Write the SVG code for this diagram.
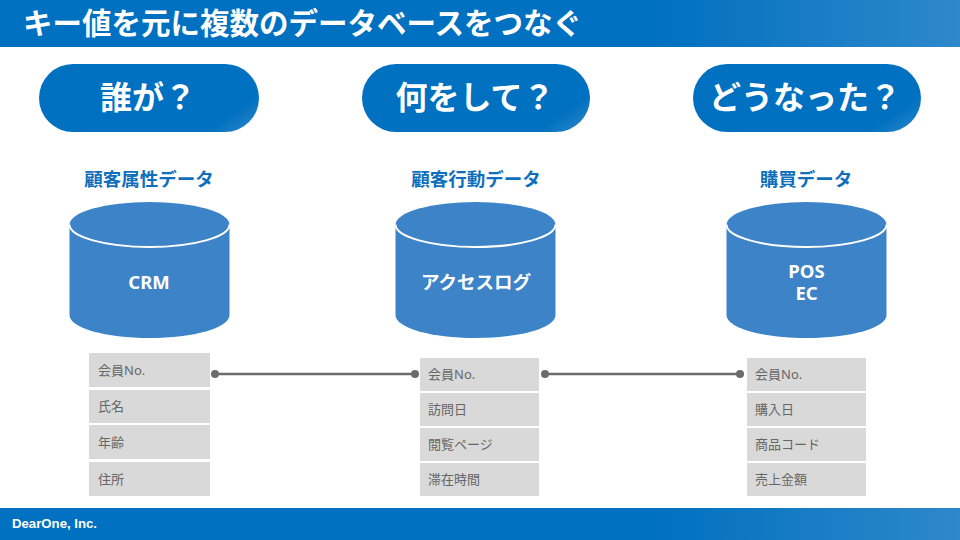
<svg xmlns="http://www.w3.org/2000/svg" width="960" height="540" viewBox="0 0 960 540">
<defs>
<linearGradient id="bar" x1="0" y1="0" x2="1" y2="0"><stop offset="0" stop-color="#0070c0"/><stop offset="0.68" stop-color="#0070c0"/><stop offset="1" stop-color="#2e88ca"/></linearGradient>
<linearGradient id="pg1" gradientUnits="userSpaceOnUse" x1="39" y1="0" x2="168" y2="192"><stop offset="0" stop-color="#0070c0"/><stop offset="0.87" stop-color="#0070c0"/><stop offset="1" stop-color="#2e88ca"/></linearGradient>
<linearGradient id="pg2" href="#pg1" gradientTransform="translate(331 0)"/>
<linearGradient id="pg3" href="#pg1" gradientTransform="translate(662 0)"/>
<g id="cyl">
<path d="M0 22.500 V113 C0 126 36 136 80 136 C124 136 160 126 160 113 V22.500 A80 22.500 0 0 0 0 22.500 Z" fill="#3c83c8"/>
<path d="M0 22.500 A80 22.500 0 0 0 160 22.500" fill="none" stroke="#fff" stroke-width="2"/>
</g>
</defs>
<style>
text{font-family:"Noto Sans","Noto Sans CJK JP",sans-serif}
.pt{fill:#fff;font-size:32px;font-weight:700;text-anchor:middle}
.h{fill:#0f6fbd;font-size:18.500px;font-weight:700;text-anchor:middle}
.c{fill:#fff;font-size:18.500px;font-weight:700;text-anchor:middle}
.r{fill:#d9d9d9}
.t{fill:#666;font-size:13px}
.l{stroke:#6b6b6b;stroke-width:2.500;fill:none}
.d{fill:#6b6b6b}
</style>
<rect id="top-bar" x="0" y="0" width="960" height="47" fill="url(#bar)"/>
<text x="23" y="34" fill="#fff" font-size="29.500" font-weight="700">キー値を元に複数のデータベースをつなぐ</text>
<g id="q1"><rect fill="url(#pg1)" x="39" y="64" width="220" height="68" rx="34"/><text class="pt" x="148" y="109">誰が？</text></g>
<g id="q2"><rect fill="url(#pg2)" x="362" y="64" width="228" height="68" rx="34"/><text class="pt" x="475" y="109">何をして？</text></g>
<g id="q3"><rect fill="url(#pg3)" x="693" y="64" width="228" height="68" rx="34"/><text class="pt" x="805" y="109">どうなった？</text></g>
<text class="h" x="149" y="186">顧客属性データ</text>
<text class="h" x="476" y="186">顧客行動データ</text>
<text class="h" x="806" y="186">購買データ</text>
<g id="db1"><use href="#cyl" x="69.500" y="202"/><text class="c" x="149" y="288.500">CRM</text></g>
<g id="db2"><use href="#cyl" x="395.500" y="202"/><text class="c" x="476" y="288.500">アクセスログ</text></g>
<g id="db3"><use href="#cyl" x="726.500" y="202"/><text class="c" x="806.500" y="278"><tspan x="806.500">POS</tspan><tspan x="806.500" dy="21.500">EC</tspan></text></g>
<g id="connectors">
<line class="l" x1="215" y1="374" x2="415" y2="374"/><circle class="d" cx="215" cy="374" r="4"/><circle class="d" cx="415" cy="374" r="4"/>
<line class="l" x1="545" y1="374" x2="740" y2="374"/><circle class="d" cx="545" cy="374" r="4"/><circle class="d" cx="740" cy="374" r="4"/>
</g>
<g id="table1">
<rect class="r" x="89" y="353" width="121" height="34"/><text class="t" x="98" y="375">会員No.</text>
<rect class="r" x="89" y="390" width="121" height="33"/><text class="t" x="98" y="411">氏名</text>
<rect class="r" x="89" y="425" width="121" height="34"/><text class="t" x="98" y="447">年齢</text>
<rect class="r" x="89" y="462" width="121" height="34"/><text class="t" x="98" y="484">住所</text>
</g>
<g id="table2">
<rect class="r" x="420" y="358" width="119" height="33"/><text class="t" x="428" y="379">会員No.</text>
<rect class="r" x="420" y="393" width="119" height="33"/><text class="t" x="428" y="414">訪問日</text>
<rect class="r" x="420" y="428" width="119" height="33"/><text class="t" x="428" y="449">閲覧ページ</text>
<rect class="r" x="420" y="463" width="119" height="33"/><text class="t" x="428" y="484">滞在時間</text>
</g>
<g id="table3">
<rect class="r" x="747" y="358" width="119" height="33"/><text class="t" x="755" y="379">会員No.</text>
<rect class="r" x="747" y="393" width="119" height="33"/><text class="t" x="755" y="414">購入日</text>
<rect class="r" x="747" y="428" width="119" height="33"/><text class="t" x="755" y="449">商品コード</text>
<rect class="r" x="747" y="463" width="119" height="33"/><text class="t" x="755" y="484">売上金額</text>
</g>
<rect id="bottom-bar" x="0" y="508" width="960" height="32" fill="url(#bar)"/>
<text x="12" y="528" fill="#fff" font-size="13.200" font-weight="700" style="font-family:'Liberation Sans',sans-serif">DearOne, Inc.</text>
</svg>
